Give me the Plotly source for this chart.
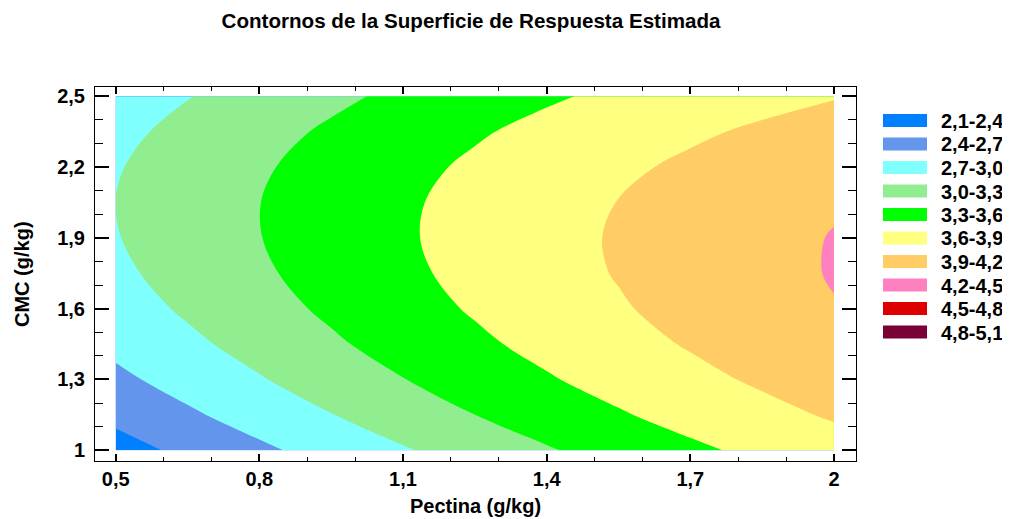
import plotly.graph_objects as go

# Superficie de respuesta estimada (rejilla cada 0,15)
pectina = [0.5, 0.65, 0.8, 0.95, 1.1, 1.25, 1.4, 1.55, 1.7, 1.85, 2.0]
cmc = [1.0, 1.15, 1.3, 1.45, 1.6, 1.75, 1.9, 2.05, 2.2, 2.35, 2.5]
respuesta = [
    [2.282, 2.467, 2.644, 2.813, 2.975, 3.129, 3.275, 3.414, 3.545, 3.668, 3.784],
    [2.474, 2.655, 2.827, 2.992, 3.149, 3.299, 3.440, 3.574, 3.701, 3.819, 3.930],
    [2.637, 2.813, 2.981, 3.141, 3.293, 3.438, 3.575, 3.705, 3.826, 3.940, 4.046],
    [2.770, 2.941, 3.104, 3.260, 3.408, 3.548, 3.680, 3.805, 3.922, 4.031, 4.133],
    [2.872, 3.039, 3.198, 3.348, 3.492, 3.627, 3.755, 3.875, 3.987, 4.092, 4.189],
    [2.945, 3.107, 3.261, 3.407, 3.546, 3.677, 3.800, 3.915, 4.023, 4.123, 4.215],
    [2.988, 3.145, 3.294, 3.436, 3.570, 3.696, 3.815, 3.925, 4.028, 4.124, 4.211],
    [3.006, 3.152, 3.297, 3.434, 3.563, 3.685, 3.799, 3.905, 4.003, 4.094, 4.176],
    [2.982, 3.129, 3.269, 3.402, 3.526, 3.643, 3.752, 3.853, 3.946, 4.032, 4.110],
    [2.932, 3.075, 3.211, 3.338, 3.458, 3.570, 3.674, 3.770, 3.859, 3.940, 4.013],
    [2.852, 2.990, 3.121, 3.243, 3.358, 3.465, 3.565, 3.656, 3.740, 3.817, 3.885],
]

niveles = ["2,1-2,4", "2,4-2,7", "2,7-3,0", "3,0-3,3", "3,3-3,6",
           "3,6-3,9", "3,9-4,2", "4,2-4,5", "4,5-4,8", "4,8-5,1"]
colores = ["#0080ff", "#6495ed", "#80ffff", "#90ee90", "#00ff00",
           "#ffff80", "#ffcc66", "#ff80c0", "#dd0000", "#7a0035"]

x_ticks = [0.5, 0.8, 1.1, 1.4, 1.7, 2.0]
x_ticktext = ["0,5", "0,8", "1,1", "1,4", "1,7", "2"]
x_minor = [0.6, 0.7, 0.9, 1.0, 1.2, 1.3, 1.5, 1.6, 1.8, 1.9]
y_ticks = [1.0, 1.3, 1.6, 1.9, 2.2, 2.5]
y_ticktext = ["1", "1,3", "1,6", "1,9", "2,2", "2,5"]
y_minor = [1.1, 1.2, 1.4, 1.5, 1.7, 1.8, 2.0, 2.1, 2.3, 2.4]

inicio, fin, paso = 2.1, 5.1, 0.3

FONT = "Arial, Liberation Sans, sans-serif"
# la pagina html deja 8 px de margen en el body
OFF = 8
W, H = 1010 - OFF, 519 - OFF
ML, MR, MT, MB = 87, 154, 79, 58

# escala escalonada: cada banda se colorea en (nivel + paso/2)
n = len(colores) + 1
escala = []
for k, c in enumerate(colores):
    a = 0 if k == 0 else (k + 0.5) / n
    b = 1 if k == len(colores) - 1 else (k + 1.5) / n
    escala.append([a, c])
    escala.append([b, c])

fig = go.Figure()
fig.add_trace(go.Contour(
    x=pectina, y=cmc, z=respuesta,
    contours=dict(start=inicio, end=fin, size=paso, coloring="fill"),
    colorscale=escala, showscale=False,
    line=dict(width=0, smoothing=1.0),
    hoverinfo="x+y+z",
))

# pixeles de la ventana -> coordenadas paper
def px_x(p):
    return (p - OFF - ML) / (W - ML - MR)

def px_y(p):
    return (H - MB - (p - OFF)) / (H - MT - MB)

shapes = []
annotations = []
for i, (lab, c) in enumerate(zip(niveles, colores)):
    top = 114 + 23.5 * i
    shapes.append(dict(type="rect", xref="paper", yref="paper",
                       x0=px_x(883), x1=px_x(927), y0=px_y(top + 13), y1=px_y(top),
                       fillcolor=c, line=dict(width=0)))
    annotations.append(dict(xref="paper", yref="paper", x=px_x(939), y=px_y(top + 7),
                            text="<b>%s</b>" % lab, showarrow=False,
                            xanchor="left", yanchor="middle",
                            font=dict(family=FONT, size=20, color="black")))

# titulo del eje Y como texto girado
annotations.append(dict(xref="paper", yref="paper", x=px_x(22), y=px_y(274),
                        text="<b>CMC (g/kg)</b>", textangle=-90, showarrow=False,
                        xanchor="center", yanchor="middle",
                        font=dict(family=FONT, size=20, color="black")))

axis_common = dict(
    showline=True, linecolor="black", linewidth=1, mirror="allticks",
    ticks="inside", tickcolor="black", tickwidth=1.5,
    showgrid=False, zeroline=False, automargin=False,
    tickfont=dict(family=FONT, size=20, color="black"),
)

fig.update_layout(
    width=W, height=H,
    margin=dict(l=ML, r=MR, t=MT, b=MB),
    paper_bgcolor="white", plot_bgcolor="white",
    title=dict(text="<b>Contornos de la Superficie de Respuesta Estimada</b>",
               x=(471 - OFF) / W, xref="container", xanchor="center",
               y=1 - (21 - OFF) / H, yref="container", yanchor="middle",
               font=dict(family=FONT, size=20.6, color="black")),
    xaxis=dict(range=[0.4568, 2.046], tickvals=x_ticks,
               ticktext=["<b>%s</b>" % t for t in x_ticktext], ticklen=7,
               minor=dict(tickvals=x_minor, ticks="inside", ticklen=4,
                          tickcolor="black", tickwidth=1),
               title=dict(text="<b>Pectina (g/kg)</b>", standoff=9,
                          font=dict(family=FONT, size=20, color="black")),
               **axis_common),
    yaxis=dict(range=[0.9547, 2.539], tickvals=y_ticks,
               ticktext=["<b>%s</b>" % t for t in y_ticktext], ticklen=14,
               ticklabelstandoff=5,
               minor=dict(tickvals=y_minor, ticks="inside", ticklen=8,
                          tickcolor="black", tickwidth=1),
               **axis_common),
    shapes=shapes,
    annotations=annotations,
    showlegend=False,
)

fig.write_html("out.html")
